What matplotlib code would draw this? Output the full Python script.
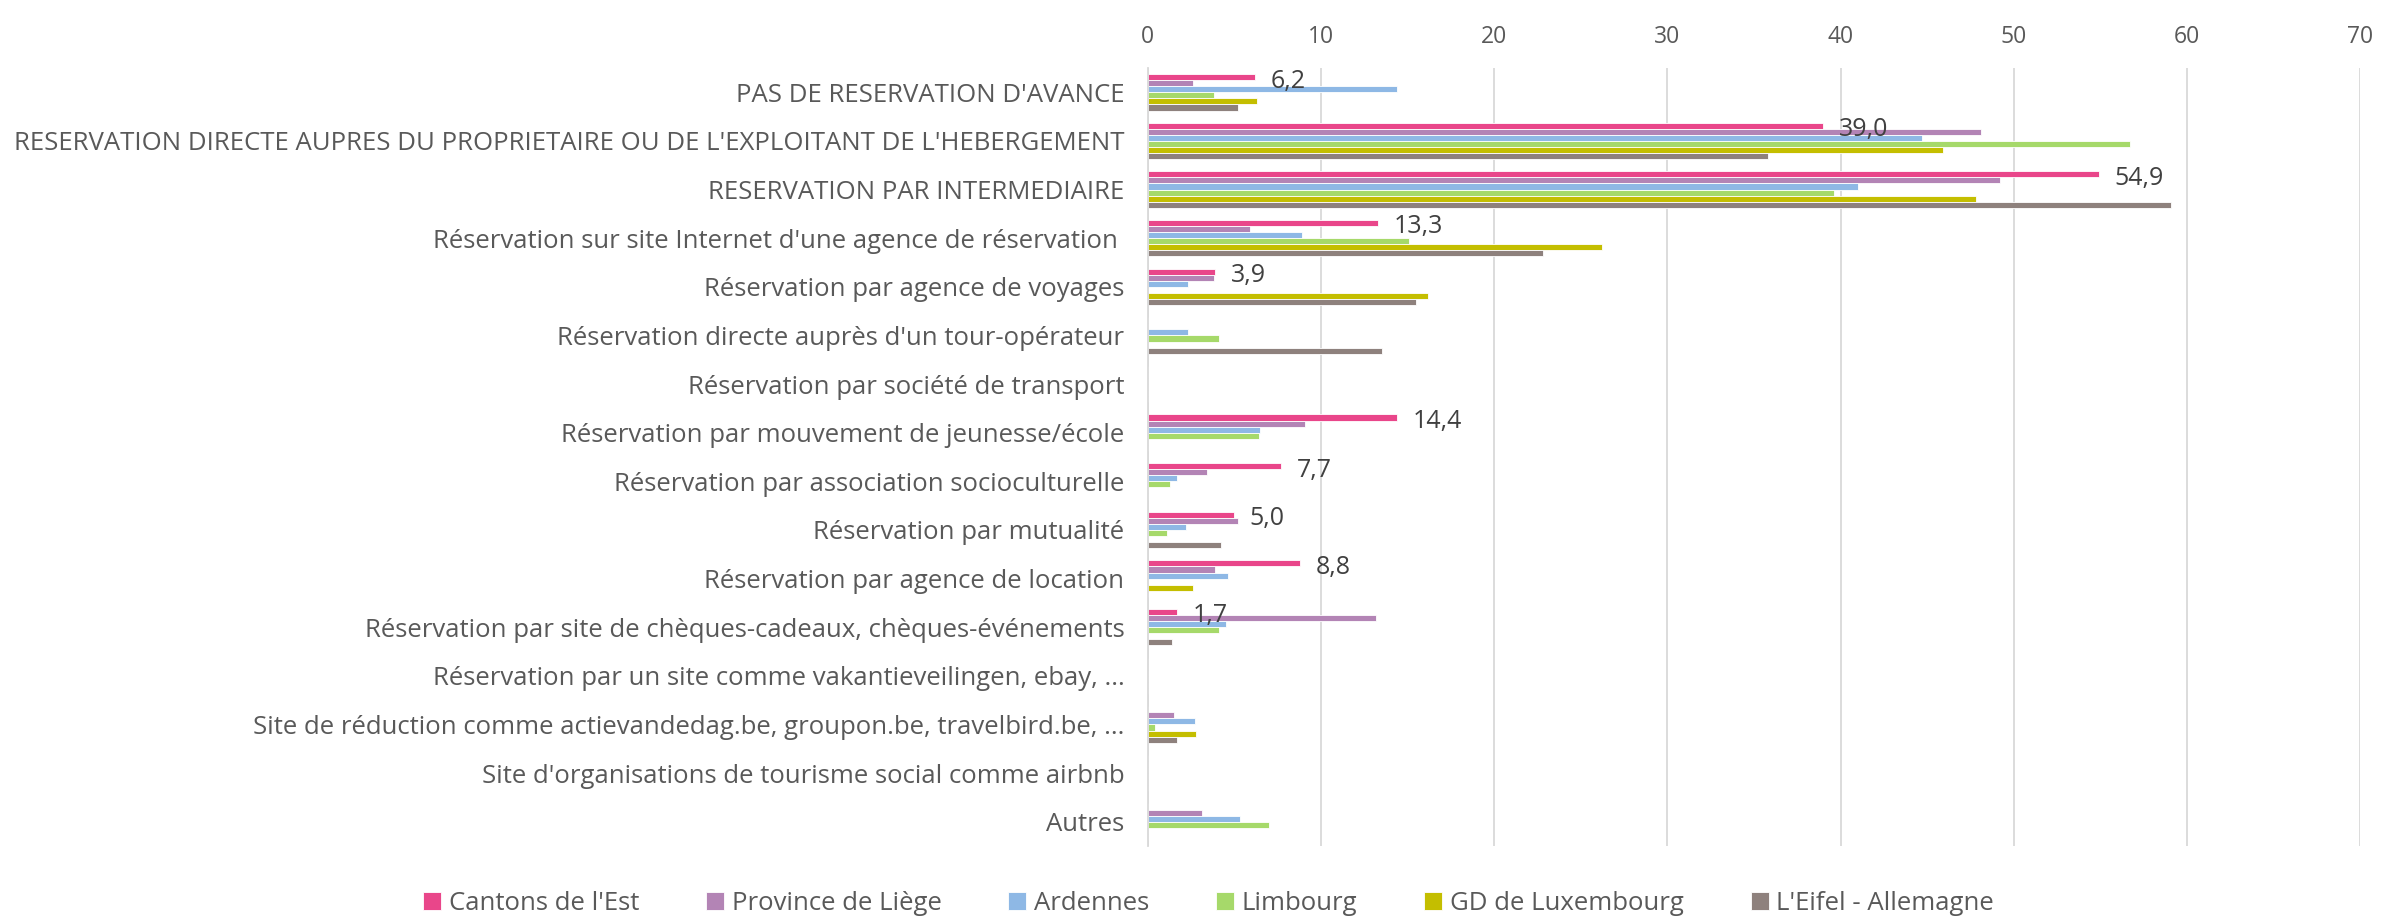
import numpy as np
import matplotlib.pyplot as plt

# categories (top to bottom)
categories = [
    "PAS DE RESERVATION D'AVANCE",
    "RESERVATION DIRECTE AUPRES DU PROPRIETAIRE OU DE L'EXPLOITANT DE L'HEBERGEMENT",
    "RESERVATION PAR INTERMEDIAIRE",
    "Réservation sur site Internet d'une agence de réservation ",
    "Réservation par agence de voyages",
    "Réservation directe auprès d'un tour-opérateur",
    "Réservation par société de transport",
    "Réservation par mouvement de jeunesse/école",
    "Réservation par association socioculturelle",
    "Réservation par mutualité",
    "Réservation par agence de location",
    "Réservation par site de chèques-cadeaux, chèques-événements",
    "Réservation par un site comme vakantieveilingen, ebay, ...",
    "Site de réduction comme actievandedag.be, groupon.be, travelbird.be, ...",
    "Site d'organisations de tourisme social comme airbnb",
    "Autres",
]

series_names = ["Cantons de l'Est", "Province de Liège", "Ardennes",
                "Limbourg", "GD de Luxembourg", "L'Eifel - Allemagne"]
colors = ["#E9468A", "#B384B5", "#8EB8E5", "#A6D96A", "#C4BE00", "#8E817D"]

cantons   = [6.2, 39.0, 54.9, 13.3, 3.9, 0, 0, 14.4, 7.7, 5.0, 8.8, 1.7, 0, 0, 0, 0]
liege     = [2.6, 48.1, 49.2, 5.9, 3.8, 0, 0, 9.1, 3.4, 5.2, 3.9, 13.2, 0, 1.5, 0, 3.1]
ardennes  = [14.4, 44.7, 41.0, 8.9, 2.3, 2.3, 0, 6.5, 1.7, 2.2, 4.6, 4.5, 0, 2.7, 0, 5.3]
limbourg  = [3.8, 56.7, 39.6, 15.1, 0, 4.1, 0, 6.4, 1.3, 1.1, 0, 4.1, 0, 0.4, 0, 7.0]
luxembourg = [6.3, 45.9, 47.8, 26.2, 16.2, 0, 0, 0, 0, 0, 2.6, 0, 0, 2.8, 0, 0]
eifel     = [5.2, 35.8, 59.1, 22.8, 15.5, 13.5, 0, 0, 0, 4.2, 0, 1.4, 0, 1.7, 0, 0]

data = [cantons, liege, ardennes, limbourg, luxembourg, eifel]

plt.rcParams['font.family'] = ['Open Sans', 'DejaVu Sans']

fig = plt.figure(figsize=(23.84, 9.19), dpi=100)
ax = fig.add_axes([0.4815, 0.0794, 0.5085, 0.8466])

y = np.arange(len(categories))
h = 0.125
for i, (vals, name, c) in enumerate(zip(data, series_names, colors)):
    ax.barh(y + (i - 2.5) * h, vals, height=h, color=c, label=name,
            edgecolor='white', linewidth=0.6)

# data labels for the first series only
for yi, v in zip(y, cantons):
    if v > 0:
        ax.annotate(f"{v:.1f}".replace('.', ','), xy=(v, yi - 2.5 * h + 0.08),
                    xytext=(11, 0), textcoords='offset points',
                    va='center', ha='left', fontsize=18, color='#404040')

ax.set_ylim(len(categories) - 0.5, -0.5)
ax.set_xlim(0, 70)
ax.set_xticks(range(0, 71, 10))
ax.xaxis.tick_top()
ax.set_yticks(y)
ax.set_yticklabels(categories)
ax.tick_params(axis='x', length=0, labelsize=16.5, labelcolor='#595959', pad=14)
ax.tick_params(axis='y', length=0, labelsize=18.5, labelcolor='#595959', pad=17)

ax.grid(axis='x', color='#D9D9D9', linewidth=1.3)
ax.set_axisbelow(True)
for s in ['top', 'right', 'bottom']:
    ax.spines[s].set_visible(False)
ax.spines['left'].set_color('#D9D9D9')
ax.spines['left'].set_linewidth(1.3)

fig.legend(loc='lower center', bbox_to_anchor=(0.507, -0.022), ncol=6,
           frameon=False, fontsize=18.5, handlelength=0.7, handleheight=0.7,
           handletextpad=0.3, columnspacing=2.6, labelcolor='#595959')

fig.savefig('out.png', dpi=100)
